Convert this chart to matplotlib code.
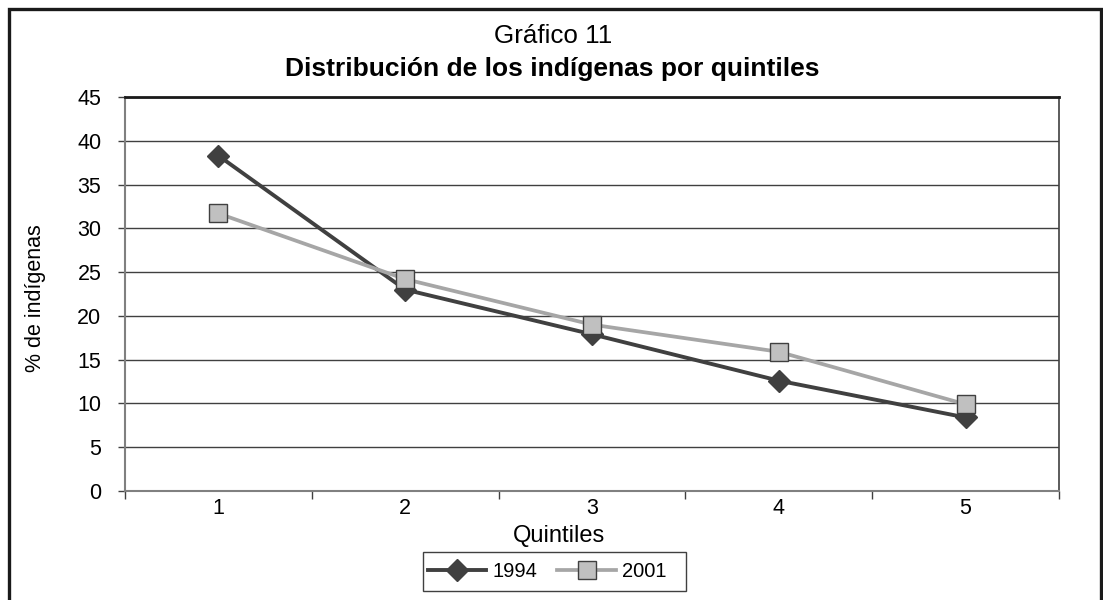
import matplotlib
matplotlib.use("Agg")
import matplotlib.pyplot as plt
from matplotlib.lines import Line2D
from matplotlib.patches import Rectangle
from matplotlib.ticker import FixedLocator

plt.rcParams['font.family'] = ['Liberation Sans', 'DejaVu Sans']

quintiles = [1, 2, 3, 4, 5]
v1994 = [38.3, 23.0, 17.9, 12.6, 8.4]
v2001 = [31.7, 24.2, 19.0, 15.9, 9.9]
yticks = [0, 5, 10, 15, 20, 25, 30, 35, 40, 45]

W, H = 1103, 600
fig = plt.figure(figsize=(W / 100, H / 100), dpi=100)
fig.patch.set_facecolor('white')

def fx(px):
    return px / W
def fy(py):
    return 1 - py / H

# outer frame (bottom edge is cut off in the reference)
frame = Line2D([fx(9), fx(9), fx(1100.5), fx(1100.5)], [fy(610), fy(9), fy(9), fy(610)],
               transform=fig.transFigure, color='#1a1a1a', linewidth=2.4,
               solid_joinstyle='miter')
fig.lines.append(frame)

ax = fig.add_axes([fx(125), fy(491), (1059 - 125) / W, (491 - 97) / H])
ax.plot(quintiles, v1994, color='#404040', linewidth=2.8, marker='D',
        markersize=11.5, markerfacecolor='#404040', markeredgecolor='#404040',
        label='1994', zorder=3)
ax.plot(quintiles, v2001, color='#a6a6a6', linewidth=2.7, marker='s',
        markersize=13, markerfacecolor='#c0c0c0', markeredgecolor='#404040',
        markeredgewidth=1, label='2001', zorder=4)

ax.set_xlim(0.5, 5.5)
ax.set_ylim(0, 45)
ax.set_yticks(yticks)
ax.yaxis.grid(True, color='#404040', linewidth=1)
ax.set_axisbelow(True)

ax.set_xticks(quintiles)
ax.set_xticklabels([str(q) for q in quintiles])
ax.tick_params(axis='x', which='major', length=0, pad=5, labelsize=15.5)
ax.xaxis.set_minor_locator(FixedLocator([0.5, 1.5, 2.5, 3.5, 4.5, 5.5]))
ax.tick_params(axis='x', which='minor', length=5.8, direction='out', color='#404040', width=1)
ax.tick_params(axis='y', length=5, direction='out', color='#404040', width=1,
               labelsize=15.5, pad=12)

for s in ['left', 'bottom']:
    ax.spines[s].set_color('#808080')
    ax.spines[s].set_linewidth(1.5)
ax.spines['top'].set_color('#1a1a1a')
ax.spines['top'].set_linewidth(2)
ax.spines['right'].set_color('#404040')
ax.spines['right'].set_linewidth(1.2)

fig.text(fx(559), fy(536), 'Quintiles', ha='center', va='center', fontsize=17)
fig.text(fx(35), fy(298), '% de indígenas', ha='center', va='center',
         rotation=90, fontsize=15.5)

fig.text(fx(553), fy(36), 'Gráfico 11', ha='center', va='center', fontsize=18.7)
fig.text(fx(552), fy(69), 'Distribución de los indígenas por quintiles',
         ha='center', va='center', fontsize=19, fontweight='bold')

# legend: entries without frame, frame drawn separately (Excel-style padding)
leg = fig.legend(loc='center left', bbox_to_anchor=(fx(428), fy(571.5)), ncol=2,
                 fontsize=14.5, frameon=False,
                 handlelength=2.9, handletextpad=0.3, columnspacing=1.0,
                 borderpad=0, borderaxespad=0)
fig.patches.append(Rectangle((fx(423), fy(591)), (686 - 423) / W, (591 - 552) / H,
                             transform=fig.transFigure, fill=False,
                             edgecolor='#404040', linewidth=1))

fig.savefig('out.png', dpi=100, facecolor='white')
